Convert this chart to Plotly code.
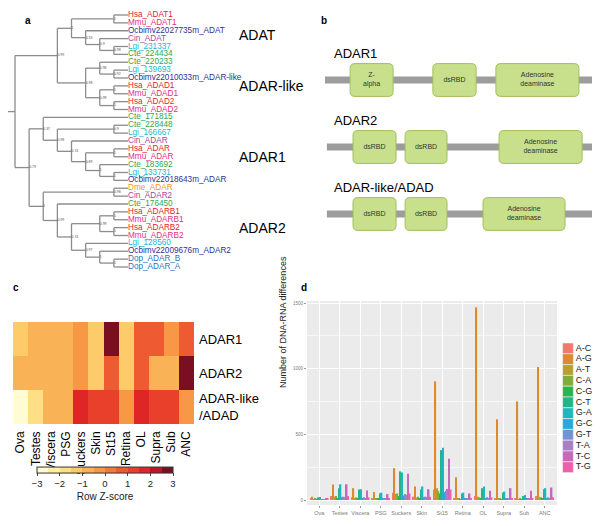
import plotly.graph_objects as go

# the page body keeps an 8 px margin, so the figure is 8 px smaller and every pixel position is shifted by it
PAD = 8
W, H = 602 - PAD, 526 - PAD

# ---------------- panel a : tree (topology + support values)
tree = ("",
        ("0.99",
         ("1",
          ("1", "Hsa_ADAT1", "Mmu_ADAT1"),
          ("0.33", "Ocbimv22027735m_ADAT",
           ("0.9", "Cin_ADAT", ("0.98", "Lgi_231337", "Cte_224434")))),
         ("0.98",
          ("0.98", "Cte_220233", ("0.92", "Lgi_139693", "Ocbimv22010033m_ADAR-like")),
          ("0.99", ("1", "Hsa_ADAD1", "Mmu_ADAD1"), ("1", "Hsa_ADAD2", "Mmu_ADAD2")))),
        ("0.79",
         ("0.37", "Cte_171815",
          ("0.98", ("0.9", "Cte_228448", "Lgi_166667"),
           ("0.74", "Cin_ADAR",
            ("0.89", ("1", "Hsa_ADAR", "Mmu_ADAR"),
             ("1", "Cte_183692", ("1", "Lgi_133731", "Ocbimv22018643m_ADAR")))))),
         ("1",
          ("0.98", "Dme_ADAR", "Cin_ADAR2"),
          ("0.99", "Cte_176450",
           ("0.74",
            ("0.99", ("1", "Hsa_ADARB1", "Mmu_ADARB1"), ("1", "Hsa_ADARB2", "Mmu_ADARB2")),
            ("0.97", "Lgi_128560",
             ("1", "Ocbimv22009676m_ADAR2", ("1", "Dop_ADAR_B", "Dop_ADAR_A"))))))))

species_colors = {"Hsa": "#e5232b", "Mmu": "#e2307f", "Ocbimv": "#2e3192", "Cin": "#9f479b",
                  "Lgi": "#2bb5cf", "Cte": "#2fa84b", "Dme": "#f7941d", "Dop": "#2f6fc0"}

clade_names = ["ADAT", "ADAR-like", "ADAR1", "ADAR2"]
clade_first = ["Hsa_ADAT1", "Cte_220233", "Lgi_166667", "Dme_ADAR"]
clade_last = ["Cte_224434", "Mmu_ADAD2", "Ocbimv22018643m_ADAR", "Dop_ADAR_A"]

# ---------------- panel b : domain architecture (relative protein coordinates)
proteins = ["ADAR1", "ADAR2", "ADAR-like/ADAD"]
dom_names = [["Z-<br>alpha", "dsRBD", "Adenosine<br>deaminase"],
             ["dsRBD", "dsRBD", "Adenosine<br>deaminase"],
             ["dsRBD", "dsRBD", "Adenosine<br>deaminase"]]
dom_start = [[9.4, 40.4, 64.0], [10.5, 30.0, 65.2], [10.5, 30.0, 59.2]]
dom_end = [[25.5, 56.6, 95.1], [26.6, 45.7, 96.3], [26.6, 45.7, 89.9]]
protein_start = [0, 0.7, 0.7]
protein_end = [100, 100, 100]

# ---------------- panel c : heatmap
tissues = ["Ova", "Testes", "Viscera", "PSG", "Suckers", "Skin", "St15",
           "Retina", "OL", "Supra", "Sub", "ANC"]
genes = ["ADAR1", "ADAR2", "ADAR-like<br>/ADAD"]
z_adar1 = [-1.3, -0.7, -0.7, -0.7, -0.3, -1.2, 2.9, -1.2, 0.8, 0.8, -0.2, 0.8]
z_adar2 = [-0.7, -0.7, -0.7, -0.7, -0.3, -1.2, 0.8, -1.2, 0.8, -0.6, -0.6, 2.9]
z_adad = [-2.6, -1.8, -0.7, -0.7, 1.6, 1.1, 1.1, -0.3, 1.6, 1.1, 1.1, -0.3]
z_colors = ["#fffbd2", "#ffefa6", "#fedf86", "#fdcb6a", "#fab257", "#f69845",
            "#f27b3a", "#ee5a31", "#e9402b", "#de2627", "#b8162a", "#7a0f22"]

# ---------------- panel d : DNA-RNA differences
substitutions = ["A-C", "A-G", "A-T", "C-A", "C-G", "C-T", "G-A", "G-C", "G-T", "T-A", "T-C", "T-G"]
sub_colors = ["#f07a6e", "#df8a2a", "#b9a02e", "#80ad35", "#2db24c", "#25b487",
              "#1fb7bf", "#27a9df", "#6f93d3", "#a97ec4", "#c769bb", "#ee60a8"]
n_AC = [10, 30, 20, 15, 55, 25, 80, 10, 30, 10, 8, 30]
n_AG = [25, 118, 90, 60, 243, 103, 903, 174, 1467, 615, 751, 1013]
n_AT = [5, 25, 15, 10, 45, 20, 90, 8, 25, 8, 6, 25]
n_CA = [8, 30, 20, 15, 50, 25, 70, 10, 20, 10, 8, 20]
n_CG = [3, 15, 10, 8, 30, 15, 50, 5, 10, 5, 4, 10]
n_CT = [20, 90, 80, 50, 218, 80, 380, 50, 90, 55, 30, 82]
n_GA = [22, 120, 82, 56, 210, 103, 397, 56, 103, 64, 38, 90]
n_GC = [5, 20, 15, 12, 35, 20, 60, 10, 15, 10, 8, 15]
n_GT = [5, 25, 20, 15, 45, 25, 70, 12, 20, 12, 10, 20]
n_TA = [3, 20, 15, 10, 40, 20, 85, 8, 15, 10, 8, 15]
n_TC = [15, 120, 72, 45, 200, 82, 315, 50, 70, 90, 70, 95]
n_TG = [10, 30, 20, 15, 50, 25, 80, 15, 20, 15, 12, 20]
counts = [n_AC, n_AG, n_AT, n_CA, n_CG, n_CT, n_GA, n_GC, n_GT, n_TA, n_TC, n_TG]


def xdom(p0, p1):
    return [max(0, (p0 - PAD) / W), min(1, (p1 - PAD) / W)]


def ydom(p0, p1):
    return [max(0, 1 - (p1 - PAD) / H), min(1, 1 - (p0 - PAD) / H)]


def px_x(p):
    return (p - PAD) / W


def px_y(p):
    return 1 - (p - PAD) / H


def rng(v0, p0, v1, p1, q0, q1):
    # value range seen between pixels q0..q1, given v0 at p0 and v1 at p1
    k = (v1 - v0) / (p1 - p0)
    return [v0 + (q0 - p0) * k, v0 + (q1 - p0) * k]


def leaf_color(name):
    for k, c in species_colors.items():
        if name.startswith(k):
            return c
    return "black"


fig = go.Figure()
FONT = "Liberation Sans, Arial, sans-serif"

# ---- tree layout
leaves = []


def collect(node):
    if isinstance(node, str):
        leaves.append(node)
        return
    for c in node[1:]:
        collect(c)


def height(node):
    if isinstance(node, str):
        return 0
    return 1 + max(height(c) for c in node[1:])


collect(tree)
dmax = height(tree)
seg_x, seg_y = [], []
sup_x, sup_y, sup_t = [], [], []


def place(node):
    if isinstance(node, str):
        return dmax, leaves.index(node)
    x = dmax - height(node)
    kids = [place(c) for c in node[1:]]
    ys = [k[1] for k in kids]
    y = (ys[0] + ys[-1]) / 2
    seg_x.extend([x, x, None])
    seg_y.extend([ys[0], ys[-1], None])
    for kx, ky in kids:
        seg_x.extend([x, kx, None])
        seg_y.extend([ky, ky, None])
    if node[0]:
        sup_x.append(x)
        sup_y.append(y)
        sup_t.append(node[0])
    return x, y


rx, ry = place(tree)
seg_x.extend([rx - 0.5, rx, None])
seg_y.extend([ry, ry, None])

fig.add_trace(go.Scatter(x=seg_x, y=seg_y, mode="lines", line=dict(color="#8c8c8c", width=1.3),
                         xaxis="x", yaxis="y", hoverinfo="skip", showlegend=False, cliponaxis=False))
fig.add_trace(go.Scatter(x=sup_x, y=sup_y, mode="text", text=sup_t, textposition="middle right",
                         textfont=dict(size=3.5, color="#555"), cliponaxis=False,
                         xaxis="x", yaxis="y", showlegend=False))
fig.add_trace(go.Scatter(x=[dmax] * len(leaves), y=list(range(len(leaves))), mode="text",
                         text=leaves, textposition="middle right", cliponaxis=False,
                         textfont=dict(size=8.2, color=[leaf_color(n) for n in leaves]),
                         xaxis="x", yaxis="y", showlegend=False))
for name, a, b in zip(clade_names, clade_first, clade_last):
    fig.add_annotation(x=dmax + 7.7, y=(leaves.index(a) + leaves.index(b)) / 2, xref="x", yref="y",
                       text=name, showarrow=False, xanchor="left", font=dict(size=14, color="black"))

# ---- domain diagrams
for i in range(len(proteins)):
    fig.add_shape(type="line", xref="x2", yref="y2", x0=protein_start[i], x1=protein_end[i], y0=i, y1=i,
                  line=dict(color="#9c9c9c", width=7), layer="below")
    for s, e in zip(dom_start[i], dom_end[i]):
        r, q, h = 1.8, 0.07, 0.245
        y0, y1 = i - h, i + h
        path = (f"M{s + r},{y0} L{e - r},{y0} Q{e},{y0} {e},{y0 + q} L{e},{y1 - q} Q{e},{y1} {e - r},{y1} "
                f"L{s + r},{y1} Q{s},{y1} {s},{y1 - q} L{s},{y0 + q} Q{s},{y0} {s + r},{y0} Z")
        fig.add_shape(type="path", path=path, xref="x2", yref="y2", fillcolor="#c8e08c",
                      line=dict(color="#a2bf5c", width=1), layer="below")
    fig.add_trace(go.Scatter(x=[(s + e) / 2 for s, e in zip(dom_start[i], dom_end[i])], y=[i] * 3,
                             mode="text", text=dom_names[i], textfont=dict(size=7, color="#333"),
                             xaxis="x2", yaxis="y2", showlegend=False, hoverinfo="skip"))
    fig.add_annotation(x=2.6, y=i - 0.39, xref="x2", yref="y2", text=proteins[i], showarrow=False,
                       xanchor="left", font=dict(size=13, color="black"))

# ---- heatmap
scale = []
for k, c in enumerate(z_colors):
    scale.append([k / len(z_colors), c])
    scale.append([(k + 1) / len(z_colors), c])
fig.add_trace(go.Heatmap(z=[z_adar1, z_adar2, z_adad], x=tissues, y=genes, zmin=-3, zmax=3,
                         colorscale=scale, xaxis="x3", yaxis="y3",
                         colorbar=dict(orientation="h", x=px_x(105), xanchor="center", y=px_y(485),
                                       yanchor="middle", len=136 / W, lenmode="fraction", thickness=6,
                                       xpad=0, ypad=0, outlinewidth=1, outlinecolor="#333",
                                       tickvals=[-3, -2, -1, 0, 1, 2, 3], ticks="outside", ticklen=3,
                                       tickfont=dict(size=9.5, color="#222"),
                                       title=dict(text="Row Z-score", side="bottom",
                                                  font=dict(size=10, color="#222")))))

# ---- bars
for s, c, v in zip(substitutions, sub_colors, counts):
    fig.add_trace(go.Bar(x=tissues, y=v, name=s, marker=dict(color=c, line=dict(width=0)),
                         xaxis="x4", yaxis="y4", showlegend=False))
fig.add_shape(type="rect", xref="x4 domain", yref="y4 domain", x0=0, x1=1, y0=0, y1=1,
              fillcolor="#ebebeb", line=dict(width=0), layer="below")
fig.add_trace(go.Scatter(x=[0] * len(substitutions), y=list(range(len(substitutions))),
                         mode="markers+text", text=substitutions, textposition="middle right",
                         marker=dict(symbol="square", size=10.8, color=sub_colors,
                                     line=dict(color="#f2f2f2", width=0.6)),
                         textfont=dict(size=9, color="#222"), cliponaxis=False,
                         xaxis="x5", yaxis="y5", showlegend=False, hoverinfo="skip"))

fig.add_annotation(x=px_x(283), y=px_y(390), xref="paper", yref="paper", text="Number of DNA-RNA differences",
                   textangle=-90, showarrow=False, font=dict(size=9, color="#222"))

for t, px, py in [("a", 23, 13), ("b", 324, 13), ("c", 11, 287), ("d", 304, 287)]:
    fig.add_annotation(x=px_x(px), y=px_y(py), xref="paper", yref="paper", text=f"<b>{t}</b>",
                       showarrow=False, font=dict(size=10, color="black"))

hidden = dict(visible=False, showgrid=False, zeroline=False)
fig.update_layout(
    width=W, height=H, margin=dict(l=0, r=0, t=0, b=0, autoexpand=False),
    paper_bgcolor="white", plot_bgcolor="rgba(0,0,0,0)", font=dict(family=FONT),
    barmode="group", bargap=0.1, bargroupgap=0,
    xaxis=dict(domain=xdom(8, 300), range=rng(0, 15, dmax, 128, 8, 300), **hidden),
    yaxis=dict(domain=ydom(8, 280), range=rng(0, 15, 32, 267, 280, 8), **hidden),
    xaxis2=dict(domain=xdom(301, 602), range=rng(0, 325, 100, 592, 301, 602), **hidden),
    yaxis2=dict(domain=ydom(30, 250), range=rng(0, 80, 2, 214, 250, 30), **hidden),
    xaxis3=dict(domain=xdom(13, 194), tickangle=-90, tickfont=dict(size=12, color="black"),
                ticks="", showgrid=False, zeroline=False, anchor="y3", ticklabelstandoff=4),
    yaxis3=dict(domain=ydom(322, 424), autorange="reversed", side="right",
                tickfont=dict(size=13, color="black"), ticks="", showgrid=False, zeroline=False,
                anchor="x3", ticklabelstandoff=4),
    xaxis4=dict(domain=xdom(307, 557), range=[-0.6, 11.6], anchor="y4", showgrid=True,
                gridcolor="white", gridwidth=1, tickfont=dict(size=5.5, color="#7a7a7a"),
                ticks="outside", ticklen=2, tickcolor="#999", zeroline=False),
    yaxis4=dict(domain=ydom(301, 505), range=rng(0, 500, 1500, 303, 505, 301), anchor="x4",
                tickvals=[0, 500, 1000, 1500], showgrid=True, gridcolor="white", gridwidth=1,
                minor=dict(dtick=250, showgrid=True, gridcolor="#f7f7f7", gridwidth=0.5),
                tickfont=dict(size=4.5, color="#7a7a7a"), ticks="outside", ticklen=2,
                tickcolor="#999", zeroline=False),
    xaxis5=dict(domain=xdom(560, 602), range=[-0.19, 0.81], **hidden),
    yaxis5=dict(domain=ydom(338, 480), range=rng(0, 348.4, 11, 467.2, 480, 338), **hidden),
)

fig.write_html("out.html")
